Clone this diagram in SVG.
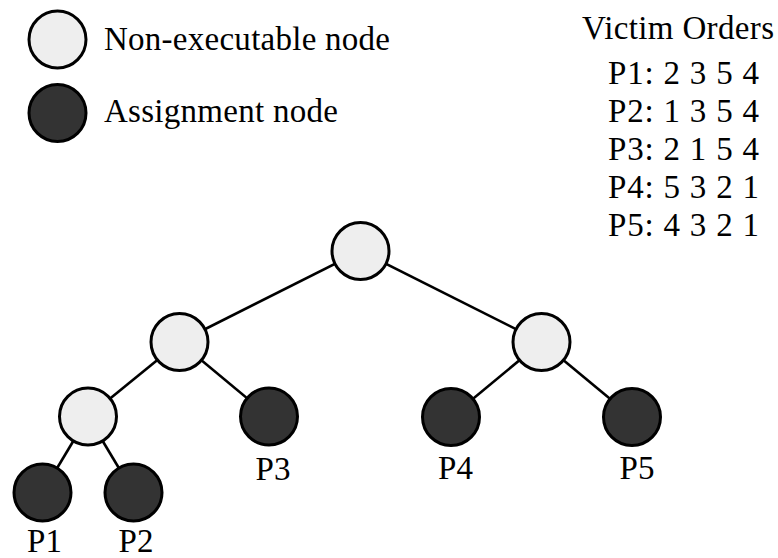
<svg xmlns="http://www.w3.org/2000/svg" width="778" height="558" viewBox="0 0 778 558" font-family="Liberation Serif, serif" font-size="33">
  <defs>
    <circle id="nonexec-node" r="28.5" fill="#EEEEEE" stroke="#000" stroke-width="3"/>
    <circle id="assign-node" r="28.5" fill="#333333" stroke="#000" stroke-width="3"/>
  </defs>

  <!-- tree edges, drawn first so the nodes cover their ends -->
  <g id="connectors" stroke="#000" stroke-width="2.6" fill="none">
    <line x1="360.5" y1="251" x2="179.5" y2="342"/>
    <line x1="360.5" y1="251" x2="541.5" y2="342"/>
    <line x1="179.5" y1="342" x2="88" y2="416.5"/>
    <line x1="179.5" y1="342" x2="269" y2="416.5"/>
    <line x1="541.5" y1="342" x2="451" y2="417"/>
    <line x1="541.5" y1="342" x2="632" y2="417"/>
    <line x1="88" y1="416.5" x2="42.5" y2="492.5"/>
    <line x1="88" y1="416.5" x2="133.5" y2="492.5"/>
  </g>

  <!-- legend -->
  <g id="legend-nonexec">
    <use href="#nonexec-node" x="57.5" y="39.5"/>
    <text x="104" y="49.5" textLength="286" lengthAdjust="spacing">Non-executable node</text>
  </g>
  <g id="legend-assign">
    <use href="#assign-node" x="57.5" y="113"/>
    <text x="104" y="122" textLength="234" lengthAdjust="spacing">Assignment node</text>
  </g>

  <!-- victim order table -->
  <g id="victim-orders">
    <text x="582" y="38.5" textLength="192" lengthAdjust="spacing">Victim Orders</text>
    <text x="608" y="83.5" textLength="151" lengthAdjust="spacing">P1: 2 3 5 4</text>
    <text x="608" y="121.5" textLength="151" lengthAdjust="spacing">P2: 1 3 5 4</text>
    <text x="608" y="159.5" textLength="151" lengthAdjust="spacing">P3: 2 1 5 4</text>
    <text x="608" y="197.5" textLength="151" lengthAdjust="spacing">P4: 5 3 2 1</text>
    <text x="608" y="236" textLength="151" lengthAdjust="spacing">P5: 4 3 2 1</text>
  </g>

  <!-- tree nodes -->
  <g id="root"><use href="#nonexec-node" x="360.5" y="251"/></g>
  <g id="left"><use href="#nonexec-node" x="179.5" y="342"/></g>
  <g id="right"><use href="#nonexec-node" x="541.5" y="342"/></g>
  <g id="left-left"><use href="#nonexec-node" x="88" y="416.5"/></g>
  <g id="p3">
    <use href="#assign-node" x="269" y="416.5"/>
    <text text-anchor="middle" x="273" y="479.5">P3</text>
  </g>
  <g id="p4">
    <use href="#assign-node" x="451" y="417"/>
    <text text-anchor="middle" x="455.5" y="479">P4</text>
  </g>
  <g id="p5">
    <use href="#assign-node" x="632" y="417"/>
    <text text-anchor="middle" x="637" y="479">P5</text>
  </g>
  <g id="p1">
    <use href="#assign-node" x="42.5" y="492.5"/>
    <text text-anchor="middle" x="44.5" y="552">P1</text>
  </g>
  <g id="p2">
    <use href="#assign-node" x="133.5" y="492.5"/>
    <text text-anchor="middle" x="136" y="552">P2</text>
  </g>
</svg>
